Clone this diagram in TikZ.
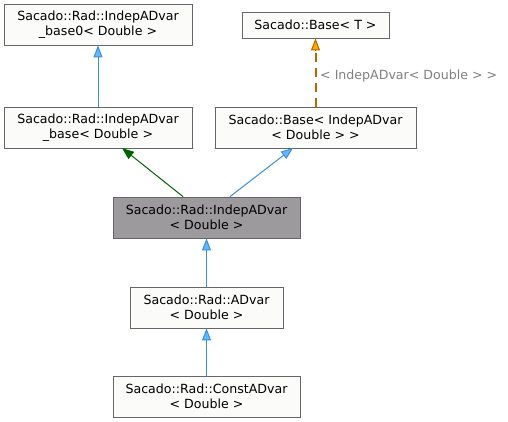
\documentclass[tikz,border=0pt]{standalone}
\usepackage{fontspec}
\setmainfont{DejaVu Sans}
\usetikzlibrary{arrows.meta,calc}
\definecolor{boxline}{HTML}{666666}
\definecolor{boxfill}{HTML}{FBFCFA}
\definecolor{hifill}{HTML}{9D9A9D}
\definecolor{blueline}{HTML}{3A8FD8}
\definecolor{bluefill}{HTML}{63B8FF}
\definecolor{greenline}{HTML}{006400}
\definecolor{orangeline}{HTML}{B86800}
\definecolor{orangefill}{HTML}{FFA500}
\definecolor{lblgray}{HTML}{808080}
\tikzset{
  cls/.style={draw=boxline, fill=boxfill, line width=0.8bp, inner sep=0pt, align=center,
    font=\fontsize{12.6bp}{14.5bp}\selectfont, text=black},
  hicls/.style={cls, fill=hifill},
  inhblue/.style={draw=blueline, line width=1bp, -{Triangle[length=12bp,width=9bp,fill=bluefill]}},
  inhgreen/.style={draw=greenline, line width=1bp, -{Triangle[length=12bp,width=9bp,fill=greenline]}},
  dashseg/.style={draw=orangeline, line width=2bp, line cap=butt},
  tiporange/.style={draw=orangeline, line width=1bp, -{Triangle[length=12bp,width=9bp,fill=orangefill]}},
}
\begin{document}
\begin{tikzpicture}[x=1bp,y=-1bp]
\useasboundingbox (0,0) rectangle (508,421);
\fill[white] (0,0) rectangle (508,421);
\node[cls, minimum width=188bp, minimum height=41bp] (A) at (98,24.5) {Sacado::Rad::IndepADvar\\\_base0< Double >};
\node[cls, minimum width=147bp, minimum height=26bp] (B) at (315.5,25) {Sacado::Base< T >};
\node[cls, minimum width=188bp, minimum height=41bp] (C) at (98,127.5) {Sacado::Rad::IndepADvar\\\_base< Double >};
\node[cls, minimum width=201bp, minimum height=41bp] (D) at (315.5,127.5) {Sacado::Base< IndepADvar\\< Double > >};
\node[hicls, minimum width=187bp, minimum height=41bp] (E) at (206.5,217.5) {Sacado::Rad::IndepADvar\\< Double >};
\node[cls, minimum width=153bp, minimum height=41bp] (F) at (206.5,307.5) {Sacado::Rad::ADvar\\< Double >};
\node[cls, minimum width=187bp, minimum height=41bp] (G) at (206.5,396.5) {Sacado::Rad::ConstADvar\\< Double >};
\node[anchor=west, text=lblgray, font=\fontsize{12.6bp}{14bp}\selectfont, inner sep=0pt] (L) at (320,76) {< IndepADvar< Double > >};
\coordinate (Bt) at ([yshift=-12bp]B.south);
\draw[inhblue] (C.north) -- (A.south);
\foreach \i in {0,...,3} {
  \draw[dashseg] ($(D.north)+(0,-\i*15)$) -- ($(D.north)+(0,-\i*15-9)$);
}
\draw[tiporange] (Bt) -- (B.south);
\draw[inhgreen] (E.north -| 183,0) -- (122,148);
\draw[inhblue] (E.north -| 230,0) -- (293,148);
\draw[inhblue] (F.north) -- (E.south);
\draw[inhblue] (G.north) -- (F.south);
\end{tikzpicture}
\end{document}
